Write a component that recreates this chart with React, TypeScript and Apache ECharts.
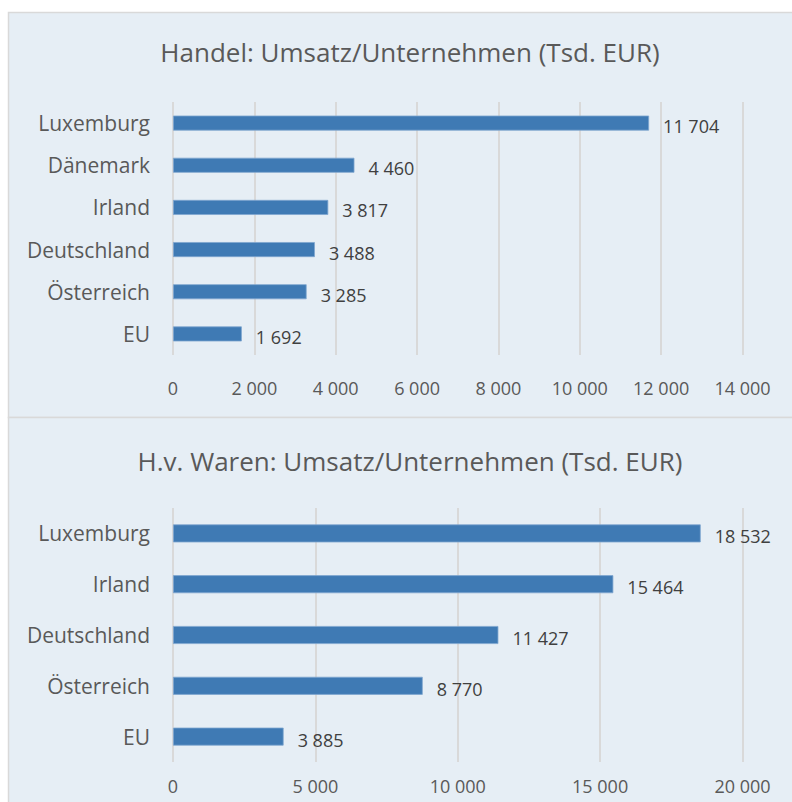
import React, { useEffect, useRef } from "react";
import * as echarts from "echarts";

const handelCategories = ["Luxemburg", "Dänemark", "Irland", "Deutschland", "Österreich", "EU"];
const handelValues = [11704, 4460, 3817, 3488, 3285, 1692];
const warenCategories = ["Luxemburg", "Irland", "Deutschland", "Österreich", "EU"];
const warenValues = [18532, 15464, 11427, 8770, 3885];
const titleTop = "Handel: Umsatz/Unternehmen (Tsd. EUR)";
const titleBottom = "H.v. Waren: Umsatz/Unternehmen (Tsd. EUR)";

const FONT = "'Open Sans', 'Noto Sans', sans-serif";
const TEXT = "#595959";
const GRID = "#d9d9d9";
const BAR = "#3f7ab4";
const BG = "#e6eef5";

const fmt = (v: number) => String(Math.round(v)).replace(/\B(?=(\d{3})+(?!\d))/g, " ");

export default function App() {
  const ref = useRef<HTMLDivElement>(null);
  useEffect(() => {
    if (!ref.current) return;
    const chart = echarts.init(ref.current, null, { renderer: "svg" });
    const xAxisBase = (max: number, interval: number, gridIndex: number, margin: number) => ({
      type: "value",
      gridIndex,
      min: 0,
      max,
      interval,
      axisLine: { show: false },
      axisTick: { show: false },
      splitLine: { show: true, lineStyle: { color: GRID, width: 2 } },
      axisLabel: {
        color: TEXT,
        fontFamily: FONT,
        fontSize: 18,
        margin,
        formatter: (v: number) => fmt(v),
      },
    });
    const yAxisBase = (data: string[], gridIndex: number) => ({
      type: "category",
      gridIndex,
      data,
      inverse: true,
      axisLine: { show: false },
      axisTick: { show: false },
      splitLine: { show: false },
      axisLabel: { color: TEXT, fontFamily: FONT, fontSize: 21, margin: 23 },
    });
    const seriesBase = (data: number[], idx: number, barWidth: number) => ({
      type: "bar",
      xAxisIndex: idx,
      yAxisIndex: idx,
      data,
      barWidth,
      itemStyle: { color: BAR, borderColor: "#7fa6cf", borderWidth: 0.8 },
      label: {
        show: true,
        position: "right",
        distance: 14,
        offset: [0, 3],
        color: "#404040",
        fontFamily: FONT,
        fontSize: 18,
        formatter: (p: any) => fmt(p.value),
      },
    });
    chart.setOption({
      animation: false,
      backgroundColor: "#ffffff",
      graphic: [
        {
          type: "rect",
          z: -10,
          shape: { x: 8.5, y: 12.5, width: 820, height: 405 },
          style: { fill: BG, stroke: GRID, lineWidth: 1.5 },
          silent: true,
        },
        {
          type: "rect",
          z: -10,
          shape: { x: 8.5, y: 417.5, width: 820, height: 420 },
          style: { fill: BG, stroke: GRID, lineWidth: 1.5 },
          silent: true,
        },
      ],
      title: [
        {
          text: titleTop,
          left: 405,
          top: 34,
          textAlign: "center",
          textStyle: { color: TEXT, fontFamily: FONT, fontSize: 26, fontWeight: "normal" },
        },
        {
          text: titleBottom,
          left: 405,
          top: 443,
          textAlign: "center",
          textStyle: { color: TEXT, fontFamily: FONT, fontSize: 26, fontWeight: "normal" },
        },
      ],
      grid: [
        { left: 173, top: 102, width: 569.5, height: 253 },
        { left: 173, top: 508, width: 569.5, height: 254 },
      ],
      xAxis: [xAxisBase(14000, 2000, 0, 24), xAxisBase(20000, 5000, 1, 15)],
      yAxis: [yAxisBase(handelCategories, 0), yAxisBase(warenCategories, 1)],
      series: [seriesBase(handelValues, 0, 15), seriesBase(warenValues, 1, 18)],
    });
    return () => chart.dispose();
  }, []);
  return (
    <div
      ref={ref}
      style={{ position: "fixed", left: 0, top: 0, width: 792, height: 802 }}
    />
  );
}
